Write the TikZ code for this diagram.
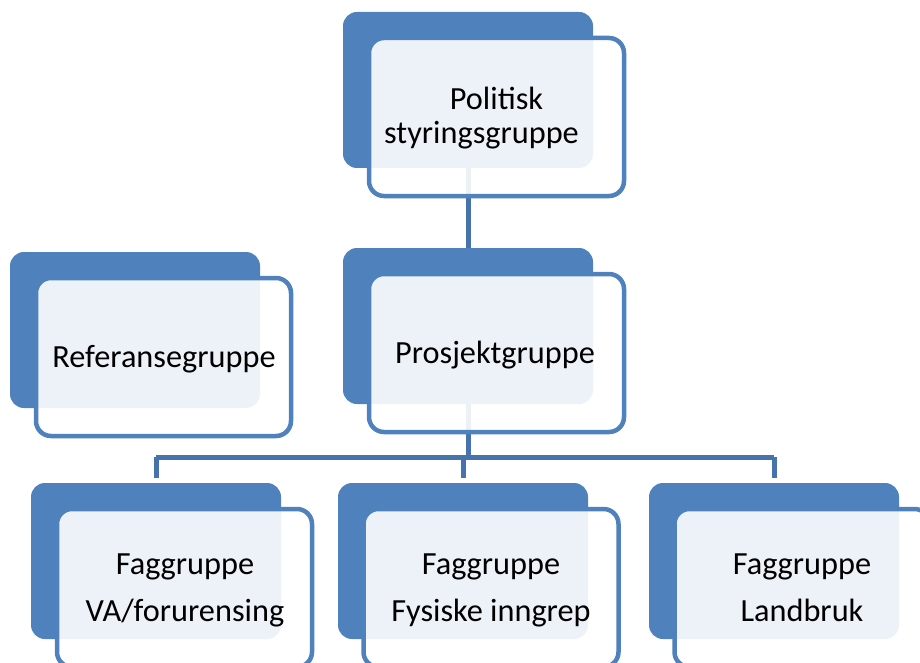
\documentclass[tikz,border=0pt]{standalone}
\usepackage{fontspec}
\setmainfont{Carlito}
\definecolor{boxblue}{HTML}{4F81BD}
\definecolor{linkblue}{HTML}{4673AB}
\begin{document}
\begin{tikzpicture}[x=1pt,y=-1pt,
  backbox/.style={fill=boxblue, draw=none, rounded corners=14pt, minimum width=250pt, minimum height=156pt, inner sep=0pt, outer sep=0pt},
  frontbox/.style={fill=white, fill opacity=0.9, draw=boxblue, draw opacity=1, line width=4.5pt, rounded corners=15pt, minimum width=255pt, minimum height=158pt, inner sep=0pt, outer sep=0pt},
  link/.style={draw=linkblue, line width=5pt},
  lbl/.style={font=\fontsize{32.3}{38}\selectfont, anchor=base, inner sep=0pt, text=black}]
\useasboundingbox (0,0) rectangle (920,663);
\fill[white] (0,0) rectangle (920,663);
% back boxes
\node[backbox] (polB) at (468,90) {};
\node[backbox] (proB) at (468,326) {};
\node[backbox] (refB) at (135,330) {};
\node[backbox] (f1B) at (156,561) {};
\node[backbox] (f2B) at (463,561) {};
\node[backbox] (f3B) at (774,561) {};
% connectors
\coordinate (bus) at (0,457);
\draw[link] (polB.south) -- (proB.north);
\draw[link] (proB.south) -- (proB.south |- bus);
\draw[link] (f1B.north |- bus) -- (f3B.north |- bus);
\draw[link] (f1B.north |- bus) -- ([yshift=5pt]f1B.north);
\draw[link] (f2B.north |- bus) -- ([yshift=5pt]f2B.north);
\draw[link] (f3B.north |- bus) -- ([yshift=5pt]f3B.north);
% front boxes
\node[frontbox] (polF) at (496.5,117) {};
\node[frontbox] (proF) at (496.5,353) {};
\node[frontbox] (refF) at (163.5,357) {};
\node[frontbox] (f1F) at (184.5,588) {};
\node[frontbox] (f2F) at (491,588) {};
\node[frontbox] (f3F) at (802,588) {};
% labels
\node[lbl] (polT1) at (496.5,109.5) {Politisk};
\node[lbl] (polT2) at (481.5,143.5) {styringsgruppe};
\node[lbl] (proT) at (495,363) {Prosjektgruppe};
\node[lbl] (refT) at (164,367) {Referansegruppe};
\node[lbl] (f1T1) at (185,574) {Faggruppe};
\node[lbl] (f1T2) at (185,621) {VA/forurensing};
\node[lbl] (f2T1) at (491,574) {Faggruppe};
\node[lbl] (f2T2) at (491,621) {Fysiske inngrep};
\node[lbl] (f3T1) at (802,574) {Faggruppe};
\node[lbl] (f3T2) at (802,621) {Landbruk};
\end{tikzpicture}
\end{document}
